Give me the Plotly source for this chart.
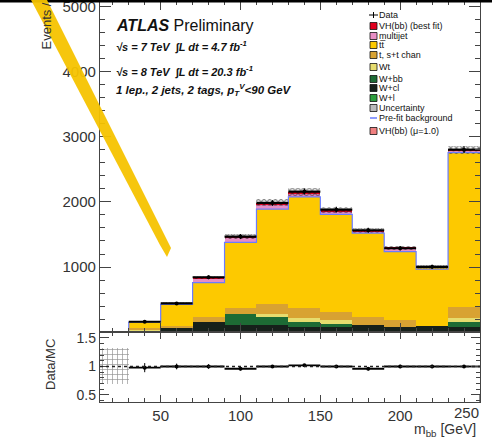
import plotly.graph_objects as go
import numpy as np

# ---------------- data ----------------
bin_edges = [30, 50, 70, 90, 110, 130, 150, 170, 190, 210, 230, 250]
bin_centers = [40, 60, 80, 100, 120, 140, 160, 180, 200, 220, 240]

# stacked backgrounds (bottom -> top)
w_l      = [5, 10, 10, 10, 10, 10, 10, 10, 10, 10, 10]
w_cl     = [20, 60, 140, 95, 95, 70, 70, 95, 70, 75, 70]
w_bb     = [0, 0, 0, 170, 128, 77, 40, 0, 0, 0, 70]
wt       = [10, 0, 0, 0, 51, 51, 60, 0, 0, 0, 60]
single_t = [20, 15, 80, 90, 154, 154, 128, 128, 103, 0, 180]
ttbar    = [103, 350, 520, 1005, 1452, 1711, 1502, 1294, 1060, 900, 2373]
multijet = [0, 0, 80, 90, 77, 50, 50, 20, 40, 10, 30]
vh_fit   = [2, 5, 10, 15, 25, 30, 20, 15, 10, 5, 10]

data_vals = [158, 440, 842, 1468, 1985, 2160, 1882, 1565, 1288, 1003, 2805]
prefit    = [150, 425, 760, 1380, 1890, 2080, 1810, 1520, 1235, 965, 2760]
unc       = [10, 18, 28, 40, 50, 55, 50, 42, 36, 30, 60]

ratio_vals = [0.98, 1.00, 1.00, 0.96, 1.00, 1.02, 1.00, 0.96, 1.00, 1.00, 1.00]
ratio_errs = [0.08, 0.05, 0.04, 0.03, 0.02, 0.02, 0.02, 0.03, 0.03, 0.03, 0.02]

x_tick_vals = [50, 100, 150, 200, 250]
x_tick_text = ["50", "100", "150", "200", "250"]
y_tick_vals = [1000, 2000, 3000, 4000, 5000]
r_tick_vals = [0.5, 1, 1.5]
r_tick_text = ["0.5", "1", "1.5"]

stack = [
    ("W+l", w_l, "#2e9e3e"),
    ("W+cl", w_cl, "#16201a"),
    ("W+bb", w_bb, "#1d6b34"),
    ("Wt", wt, "#e6dc6e"),
    ("t, s+t chan", single_t, "#d8a232"),
    ("tt\u0305", ttbar, "#fdc900"),
    ("multijet", multijet, "#e88ec4"),
    ("VH(bb) (best fit)", vh_fit, "#e0001e"),
]

legend_rows = [
    ("Data", "data", "black"),
    ("VH(bb) (best fit)", "box", "#e0001e"),
    ("multijet", "box", "#e88ec4"),
    ("tt\u0305", "box", "#fdc900"),
    ("t, s+t chan", "box", "#d8a232"),
    ("Wt", "box", "#e6dc6e"),
    ("W+bb", "box", "#1d6b34"),
    ("W+cl", "box", "#16201a"),
    ("W+l", "box", "#2e9e3e"),
    ("Uncertainty", "hatch", "#888888"),
    ("Pre-fit background", "line", "#6a7cff"),
    ("VH(bb) (\u03bc=1.0)", "box", "#f08080"),
]
legend_y_px = [15, 26, 36, 45, 55, 67, 79, 88, 98, 108, 118, 131]

# ---------------- geometry helpers ----------------
W, H = 492, 442
L, R, T, B = 100, 12, 1, 40
PW, PH = W - L - R, H - T - B
split = (402 - 332) / PH


def px(xp):
    return (xp - L) / PW


def py(yp):
    return (H - B - yp) / PH


fig = go.Figure()

widths = [bin_edges[i + 1] - bin_edges[i] for i in range(len(bin_centers))]
cum = np.zeros(len(bin_centers))
for name, vals, col in stack:
    fig.add_trace(go.Bar(x=bin_centers, y=vals, base=list(cum), width=widths, name=name,
                         marker=dict(color=col, line=dict(width=0)),
                         xaxis="x", yaxis="y", showlegend=False))
    cum = cum + np.array(vals)
total = cum

# hatched uncertainty band on top of stack
fig.add_trace(go.Bar(x=bin_centers, y=[2 * u for u in unc],
                     base=[t - u for t, u in zip(total, unc)], width=widths,
                     marker=dict(color="rgba(0,0,0,0)", line=dict(width=0),
                                 pattern=dict(shape="x", fgcolor="#111", size=4, solidity=0.5)),
                     xaxis="x", yaxis="y", showlegend=False))

# pre-fit background step line
step_x = [bin_edges[0]] + bin_edges
step_y = [0] + prefit + [prefit[-1]]
fig.add_trace(go.Scatter(x=step_x, y=step_y, mode="lines", line=dict(color="#6a7cff", width=1.2, shape="hv"),
                         xaxis="x", yaxis="y", showlegend=False))

# data
fig.add_trace(go.Scatter(x=bin_centers, y=data_vals, mode="markers",
                         marker=dict(color="black", size=4),
                         error_y=dict(type="data", array=list(np.sqrt(data_vals)), color="black", thickness=1.2, width=0),
                         error_x=dict(type="data", array=[w / 2 for w in widths], color="black", thickness=2.2, width=0),
                         xaxis="x", yaxis="y", showlegend=False))

# ratio panel
fig.add_trace(go.Bar(x=[21], y=[0.62], base=[0.70], width=[18],
                     marker=dict(color="rgba(0,0,0,0)", line=dict(width=0),
                                 pattern=dict(shape="+", fgcolor="#222", size=5, solidity=0.25)),
                     xaxis="x2", yaxis="y2", showlegend=False))
fig.add_trace(go.Scatter(x=bin_centers, y=ratio_vals, mode="markers",
                         marker=dict(color="black", size=4),
                         error_y=dict(type="data", array=ratio_errs, color="black", thickness=1, width=0),
                         error_x=dict(type="data", array=[w / 2 for w in widths], color="black", thickness=1.8, width=0),
                         xaxis="x2", yaxis="y2", showlegend=False))

axis_common = dict(showgrid=False, zeroline=False, showline=True, linecolor="#444", linewidth=1.3,
                   mirror="ticks", ticks="inside", tickcolor="#444", tickwidth=1.2, automargin=False,
                   ticklabeloverflow="allow")

XR = [12, 250]
fig.update_layout(
    width=W, height=H,
    margin=dict(l=L, r=R, t=T, b=B, autoexpand=False),
    paper_bgcolor="white", plot_bgcolor="white",
    barmode="overlay", bargap=0,
    font=dict(family="Liberation Sans, Arial, sans-serif", color="#222"),
    xaxis=dict(domain=[0, 1], range=XR, anchor="y", showticklabels=False,
               tickvals=x_tick_vals, ticklen=9,
               minor=dict(dtick=10, tick0=0, ticklen=4, ticks="inside", tickcolor="#444"),
               **axis_common),
    yaxis=dict(domain=[split, 1], range=[0, 5092], anchor="x",
               tickvals=y_tick_vals, ticklen=11,
               tickfont=dict(size=15, color="#333"),
               minor=dict(dtick=200, tick0=0, ticklen=5, ticks="inside", tickcolor="#444"),
               **axis_common),
    xaxis2=dict(domain=[0, 1], range=XR, anchor="y2", matches="x",
                tickvals=x_tick_vals[:-1], ticktext=x_tick_text[:-1], ticklen=7,
                tickfont=dict(size=15, color="#333"),
                minor=dict(dtick=10, tick0=0, ticklen=4, ticks="inside", tickcolor="#444"),
                **axis_common),
    yaxis2=dict(domain=[0, split], range=[0.377, 1.605], anchor="x2",
                tickvals=r_tick_vals, ticktext=r_tick_text, ticklen=9,
                tickfont=dict(size=14, color="#333"),
                minor=dict(dtick=0.1, tick0=0, ticklen=4, ticks="inside", tickcolor="#444"),
                **axis_common),
)

shapes = []
annotations = []

# major tick at 250 on ratio x axis (label drawn separately, right-aligned like the reference)
shapes.append(dict(type="line", xref="x2", yref="paper", x0=250, x1=250, y0=0, y1=7 / PH,
                   line=dict(color="#444", width=1.2)))
annotations.append(dict(xref="paper", yref="paper", x=px(481), y=py(402), xanchor="right", yanchor="top",
                        showarrow=False, text=x_tick_text[-1], font=dict(size=15, color="#333")))

# dotted line at ratio 1
shapes.append(dict(type="line", xref="x2", yref="y2", x0=12, x1=250, y0=1, y1=1,
                   line=dict(color="#222", width=1.3, dash="dot")))

# black band at top edge
shapes.append(dict(type="rect", xref="paper", yref="paper", x0=px(0), x1=px(W), y0=py(2.5), y1=py(-2),
                   fillcolor="black", line=dict(width=0), layer="above"))

# legend
bx0, bx1 = px(370), px(377)
for (label, kind, col), ypix in zip(legend_rows, legend_y_px):
    if kind == "box":
        shapes.append(dict(type="rect", xref="paper", yref="paper", x0=bx0, x1=bx1,
                           y0=py(ypix + 3.5), y1=py(ypix - 3.5), fillcolor=col,
                           line=dict(color="#111", width=0.8)))
    elif kind == "hatch":
        shapes.append(dict(type="rect", xref="paper", yref="paper", x0=bx0, x1=bx1,
                           y0=py(ypix + 3.5), y1=py(ypix - 3.5), fillcolor="#bbbbbb",
                           line=dict(color="#111", width=0.8)))
    elif kind == "line":
        shapes.append(dict(type="line", xref="paper", yref="paper", x0=bx0, x1=bx1,
                           y0=py(ypix), y1=py(ypix), line=dict(color=col, width=1.5)))
    else:
        shapes.append(dict(type="line", xref="paper", yref="paper", x0=px(369), x1=px(378),
                           y0=py(ypix), y1=py(ypix), line=dict(color="black", width=1)))
        shapes.append(dict(type="line", xref="paper", yref="paper", x0=px(373.5), x1=px(373.5),
                           y0=py(ypix + 3), y1=py(ypix - 3), line=dict(color="black", width=1)))
    annotations.append(dict(xref="paper", yref="paper", x=px(377), y=py(ypix), xanchor="left", yanchor="middle",
                            text=label, showarrow=False, font=dict(size=9, color="#111")))

# header texts
annotations += [
    dict(xref="paper", yref="paper", x=px(114), y=py(25), xanchor="left", yanchor="middle", showarrow=False,
         text="<b><i>ATLAS</i></b> Preliminary", font=dict(size=16, color="#111")),
    dict(xref="paper", yref="paper", x=px(114), y=py(47), xanchor="left", yanchor="middle", showarrow=False,
         text="<b><i>\u221as = 7 TeV  \u222bL dt = 4.7 fb<sup>-1</sup></i></b>", font=dict(size=11, color="#111")),
    dict(xref="paper", yref="paper", x=px(114), y=py(71), xanchor="left", yanchor="middle", showarrow=False,
         text="<b><i>\u221as = 8 TeV  \u222bL dt = 20.3 fb<sup>-1</sup></i></b>", font=dict(size=11, color="#111")),
    dict(xref="paper", yref="paper", x=px(114), y=py(90), xanchor="left", yanchor="middle", showarrow=False,
         text="<b><i>1 lep., 2 jets, 2 tags, p<sub>T</sub><sup>V</sup>&lt;90 GeV</i></b>",
         font=dict(size=11.5, color="#111")),
    # axis titles
    dict(xref="paper", yref="paper", x=px(46), y=py(52), xanchor="center", yanchor="bottom", showarrow=False,
         textangle=-90, text="Events / 20 GeV", font=dict(size=13, color="#333")),
    dict(xref="paper", yref="paper", x=px(50), y=py(365), xanchor="center", yanchor="middle", showarrow=False,
         textangle=-90, text="Data/MC", font=dict(size=13, color="#333")),
    dict(xref="paper", yref="paper", x=px(478), y=py(430), xanchor="right", yanchor="middle", showarrow=False,
         text="m<sub>bb</sub> [GeV]", font=dict(size=14, color="#333")),
]

# yellow diagonal stroke
pts = [(30, -2), (46, -2), (171, 248), (167, 257), (160, 245)]
path = "M " + " L ".join(f"{px(a):.5f},{py(b):.5f}" for a, b in pts) + " Z"
shapes.append(dict(type="path", xref="paper", yref="paper", path=path, fillcolor="#f6c300",
                   line=dict(width=0), layer="above", opacity=0.95))

fig.update_layout(shapes=shapes, annotations=annotations)

fig.write_html("out.html", config={"displayModeBar": False},
               post_script="document.body.style.margin='0';document.body.style.padding='0';"
                           "document.body.style.overflow='hidden';")
